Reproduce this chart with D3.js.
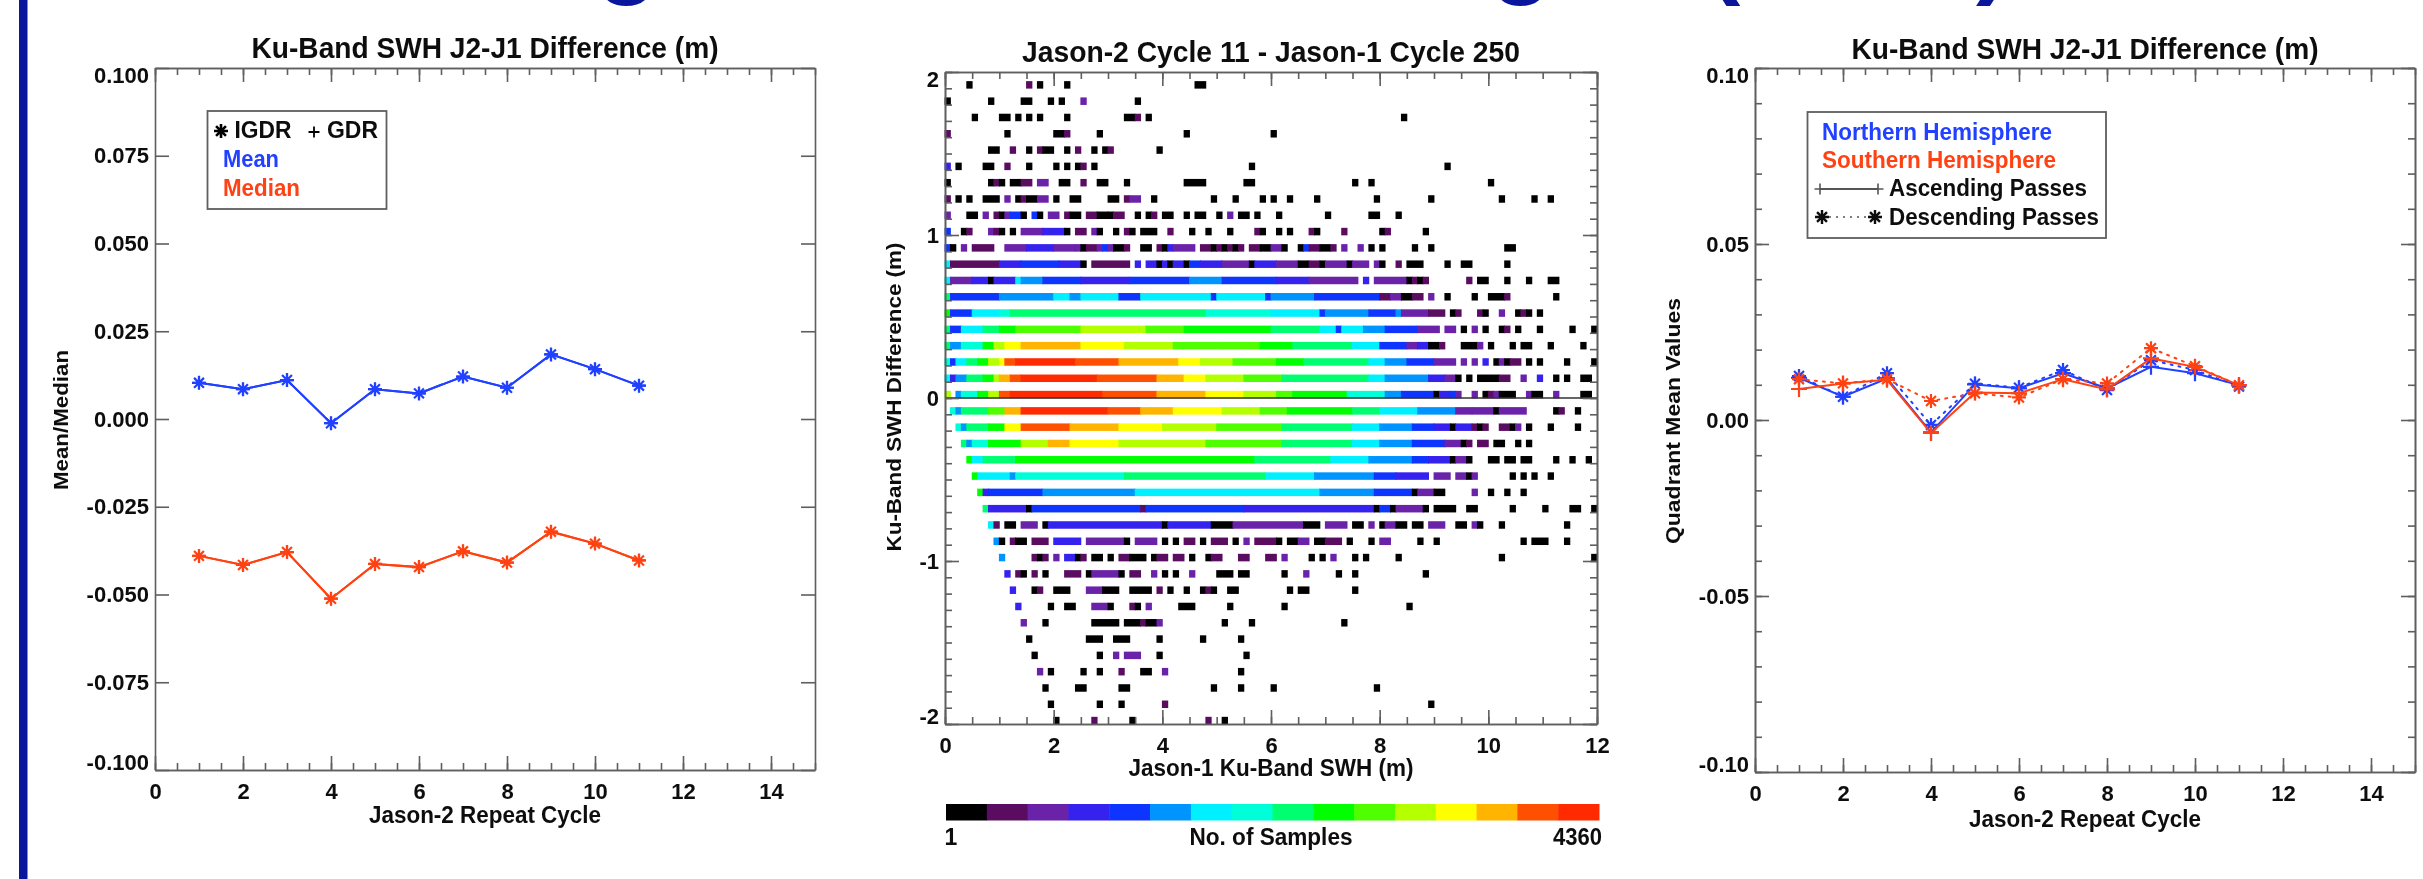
<!DOCTYPE html>
<html><head><meta charset="utf-8">
<script src="https://cdn.jsdelivr.net/npm/d3@7"></script>
<style>
html,body{margin:0;padding:0;background:#fff;overflow:hidden}
svg{display:block}
text{font-family:"Liberation Sans",Arial,sans-serif;font-weight:bold;fill:#0c0c0c}
</style></head><body><div id="c"></div>
<script>
// ---------- data ----------
const cycles=[1,2,3,4,5,6,7,8,9,10,11];
const meanDiff=[0.0103,0.0085,0.0111,-0.0012,0.0085,0.0073,0.0121,0.0089,0.0184,0.0142,0.0095];
const medianDiff=[-0.0390,-0.0416,-0.0379,-0.0512,-0.0413,-0.0422,-0.0377,-0.0409,-0.0321,-0.0355,-0.0403];
const northAsc=[0.0120,0.0066,0.0118,-0.0035,0.0101,0.0090,0.0133,0.0090,0.0151,0.0133,0.0099];
const northDesc=[0.0125,0.0066,0.0133,-0.0014,0.0103,0.0092,0.0142,0.0085,0.0170,0.0142,0.0095];
const southAsc=[0.0088,0.0104,0.0114,-0.0037,0.0078,0.0076,0.0116,0.0087,0.0175,0.0151,0.0099];
const southDesc=[0.0116,0.0104,0.0116,0.0054,0.0076,0.0064,0.0116,0.0104,0.0204,0.0153,0.0099];
const colourLevels=["#000000","#5a1060","#6a20a8","#3420ee","#1034ff","#0094ff","#00f0ff","#00ffd8","#00ff70","#00ff00","#50ff00","#b4ff00","#ffff00","#ffb400","#ff5000","#ff2a00"];
const diffBins=[1.9,1.8,1.7,1.6,1.5,1.4,1.3,1.2,1.1,1.0,0.9,0.8,0.7,0.6,0.5,0.4,0.3,0.2,0.1,0.0,-0.1,-0.2,-0.3,-0.4,-0.5,-0.6,-0.7,-0.8,-0.9,-1.0,-1.1,-1.2,-1.3,-1.4,-1.5,-1.6,-1.7,-1.8,-1.9,-2.0];
// per difference bin: a number is one lowest-count cell (SWH bin index, 0.1 m wide); [first,last,level] is a run
const binRuns=[
[4,[15,15,1],17,22,[46,47,0]],
[0,8,[14,15,0],19,21,[25,25,2],35],
[5,[10,11,0],13,15,17,22,[33,34,0],[35,35,1],37,84],
[[0,0,1],11,[20,21,0],[22,22,1],28,44,60],
[[8,9,0],[12,12,1],15,[17,17,1],[18,19,0],22,[24,24,1],27,29,[30,30,1],39],
[[0,0,3],2,[7,8,0],[11,11,1],15,20,22,24,[25,25,1],27,56,92],
[0,8,[9,9,1],10,[12,13,0],[14,15,1],[17,18,2],[21,22,0],[25,25,1],[28,29,0],33,[44,47,0],[55,56,0],75,78,100],
[[0,0,1],2,4,[7,9,0],[11,11,2],13,[14,14,1],[15,16,0],[17,18,2],20,[23,24,0],[30,31,0],[33,33,1],[34,35,2],38,49,53,58,60,63,68,79,89,102,108,111],
[[0,0,2],[4,5,0],[7,7,2],[9,9,1],10,[11,11,2],[12,13,4],14,[16,16,4],17,[19,20,2],[22,22,1],[23,24,0],[26,27,1],[28,29,0],30,[31,32,1],35,37,[38,38,1],[40,41,0],44,[46,47,0],50,[52,52,2],[54,55,0],57,61,70,[78,79,0],83],
[[0,0,4],3,[4,4,1],[8,8,2],[9,9,1],10,12,[14,17,2],[18,21,3],22,[24,25,1],[27,27,2],28,31,[33,33,1],34,[36,38,0],[41,41,1],45,48,52,[57,57,1],58,61,63,[67,67,1],68,[73,73,1],80,[81,81,1],88],
[[0,0,4],1,[3,3,2],[5,8,1],[11,14,2],[15,19,3],[20,23,2],[24,24,2],25,[26,27,1],[28,28,2],[29,29,4],[30,30,2],[31,32,0],[33,33,1],[36,37,0],[39,39,1],40,[41,41,3],[42,45,2],[47,48,1],49,[50,50,1],51,[52,52,1],53,[54,54,1],[56,57,1],[58,59,0],[60,61,2],62,65,[66,66,4],[67,68,1],[69,70,0],[71,71,1],[73,73,2],[76,76,2],78,80,86,89,[103,104,0]],
[[0,0,6],[1,9,1],[10,13,3],[14,20,4],[21,24,3],25,[27,33,1],[35,35,3],[37,38,3],39,[40,40,3],41,[42,43,3],44,[45,46,4],[47,50,3],[51,55,2],56,[57,60,3],[61,64,2],[65,66,0],[67,68,1],69,[70,73,2],74,[75,77,2],[79,79,2],80,[83,83,1],[85,87,0],92,[95,96,0],103],
[[0,0,6],[1,4,2],[5,7,3],8,[9,12,3],[13,13,6],[14,17,5],[18,24,4],[25,33,3],[34,44,4],[45,50,5],[51,60,4],[61,66,3],[67,75,2],[77,77,3],[79,84,2],85,[86,86,1],87,[88,88,1],[96,96,1],[98,99,0],103,107,[111,112,0]],
[[0,0,8],[1,9,4],[10,19,5],[20,22,6],[23,24,5],[25,31,6],[32,35,4],[36,48,6],[49,49,4],[50,58,6],[59,59,4],[60,67,5],[68,79,4],[80,81,1],[82,83,2],[84,85,0],[86,87,1],[89,89,2],92,97,[100,102,0],[103,103,1],112],
[[0,0,9],[1,4,4],[5,9,6],[10,11,7],[12,47,8],[48,59,7],[60,68,6],[69,69,4],[70,77,5],[78,82,4],[83,83,5],[84,88,2],[89,91,1],93,[94,94,1],[98,98,1],99,[102,102,2],105,[106,106,1],107,109],
[[0,0,8],[1,2,4],[3,6,6],[7,9,8],[10,12,9],[13,24,10],[25,36,11],[37,43,10],[44,59,9],[60,68,8],[69,71,6],[72,72,4],[73,76,6],[77,80,5],[81,86,4],[87,90,2],[92,93,2],95,[97,97,2],99,102,[103,103,1],105,109,115,119],
[[0,0,8],[1,2,5],[3,6,7],[7,8,9],[9,10,11],[11,13,12],[14,24,13],[25,32,12],[33,41,11],[42,50,10],[51,57,10],[58,63,9],[64,74,8],[75,79,6],[80,84,4],[85,86,2],[87,88,3],[89,90,0],[91,91,1],[95,97,0],[98,98,2],100,104,[106,107,0],111,117],
[[0,0,7],[1,1,4],[2,3,6],[4,5,8],[6,7,9],[8,9,11],[10,10,12],[11,12,14],[13,23,15],[24,31,14],[32,42,13],[43,46,12],[47,52,11],[53,60,10],[61,65,9],[66,77,8],[78,80,6],[81,84,5],[85,89,4],[90,93,2],[95,95,2],[97,97,2],[99,99,3],101,[102,102,2],103,[104,105,1],107,109,114,119],
[[0,0,6],[1,1,3],[2,3,5],[4,6,8],[7,8,9],[9,9,11],[10,11,13],[12,13,14],[14,27,15],[28,38,14],[39,43,13],[44,47,12],[48,54,11],[55,61,10],[62,77,8],[78,80,6],[81,88,5],[89,91,3],[92,93,2],94,96,[98,101,0],[102,103,1],[106,106,2],[109,109,3],112,114,[117,118,0]],
[[0,0,11],[2,2,5],[3,5,7],[6,7,9],[8,9,11],[10,11,14],[12,28,15],[29,38,14],[39,47,13],[48,54,12],[55,60,11],[61,63,10],[64,73,9],[74,80,7],[81,83,5],[84,89,4],90,[91,92,3],[93,93,4],[94,94,2],[97,97,2],99,[100,100,1],[101,101,2],[102,104,0],[107,107,2],[108,109,0],[112,112,2],[117,118,0]],
[[1,1,7],[2,2,5],[3,7,8],[8,10,10],[11,13,13],[14,29,15],[30,35,14],[36,41,13],[42,50,12],[51,57,11],[58,62,10],[63,74,9],[75,79,8],[80,86,6],[87,93,5],[94,96,2],[97,100,2],101,[102,106,2],112,[113,113,1],116],
[[2,2,7],[3,3,5],[4,7,8],[8,10,9],[11,13,12],[14,22,14],[23,31,13],[32,39,12],[40,49,11],[50,61,10],[62,74,8],[75,79,6],[80,85,5],[86,89,4],[90,92,3],93,[94,96,3],[97,97,1],98,[99,99,1],[102,103,1],104,[105,105,2],107,111,116],
[[3,3,8],[4,4,5],[5,7,7],[8,13,9],[14,18,11],[19,22,13],[23,31,12],[32,47,11],[48,61,10],[62,74,8],[75,79,6],[80,85,5],[86,91,4],[92,94,2],95,[96,96,1],[98,99,1],[101,102,0],105,107],
[[4,4,9],[5,6,6],[7,12,8],[13,56,9],[57,70,8],[71,77,6],[78,85,5],[86,88,4],[89,92,3],93,[94,95,2],96,[100,101,0],[103,104,0],[106,107,0],112,115,118],
[[5,5,9],[6,11,6],[12,12,5],[13,32,7],[33,58,8],[59,67,6],[68,78,5],[79,82,4],[83,88,3],[90,92,2],[94,95,2],96,[97,97,2],104,106,108,111],
[[6,6,9],[7,7,3],[8,17,4],[18,34,5],[35,68,6],[69,78,5],[79,85,4],86,[87,89,2],[90,91,0],[97,97,2],100,103,106],
[[7,7,8],[8,14,3],15,[16,35,4],[36,36,1],[37,54,4],[55,78,3],79,[80,81,4],82,[83,87,2],88,[90,93,0],[96,97,0],104,110,[115,116,0],119],
[[8,8,6],[9,9,1],[11,12,0],[14,16,2],18,[19,39,3],40,[41,48,3],[49,52,0],[53,65,2],[66,68,0],[70,73,2],[75,76,0],[78,78,2],[80,80,0],[81,82,2],[83,84,0],[86,87,0],[89,91,2],[94,95,0],[97,97,2],98,102,114],
[[9,9,5],10,[12,12,1],[13,14,0],[16,18,1],[20,24,3],[26,32,2],33,[35,38,2],40,42,[44,45,1],47,[49,51,1],53,[55,55,2],[57,60,1],61,[63,64,0],[65,66,2],[68,69,0],[70,72,1],74,78,[80,81,2],87,90,106,[108,110,0],114],
[[10,10,5],[16,16,1],17,[18,18,1],[20,20,2],[22,23,3],24,[25,25,1],[27,28,0],30,[32,33,1],[34,36,0],38,[39,40,1],[42,43,1],45,48,[49,50,1],[54,55,1],[59,60,1],[62,62,2],67,69,[71,71,2],75,77,83,102,119],
[[11,11,3],[13,13,1],14,[16,16,1],18,[22,24,1],26,[27,31,2],32,[34,35,1],[38,38,2],40,42,[45,45,2],[50,52,0],[54,55,0],62,[66,66,2],72,75,88],
[[12,12,3],16,[17,17,1],[20,22,0],[26,28,2],[29,31,0],[34,37,0],[39,39,1],41,44,47,[48,48,1],49,[52,53,0],63,[65,66,0],75],
[[13,13,3],19,[22,23,0],[27,29,2],30,[34,34,1],35,[37,37,2],[43,45,0],52,62,85],
[[14,14,2],18,[27,31,0],[33,35,0],[36,36,1],[37,38,0],[39,39,2],51,56,73],
[15,[26,28,0],[31,33,0],39,47,54],
[16,28,[31,31,2],[33,35,2],39,55],
[[17,17,2],19,25,28,[32,32,1],[36,37,0],[40,40,2],54],
[18,[24,25,0],[32,33,0],49,54,60,79],
[19,28,32,[40,40,1],89],
[20,[27,27,1],34,[48,48,1],51]
];
const legendEntries=["Mean","Median"];
const hemiEntries=["Northern Hemisphere","Southern Hemisphere","Ascending Passes","Descending Passes"];

// ---------- helpers ----------
const BLUE="#2040ff",RED="#ff4212",AXIS="#5e5e5e",NAVY="#0a169c";
const FS=22;
const svg=d3.select("#c").append("svg").attr("width",2423).attr("height",879);
const defs=svg.append("defs");
defs.append("filter").attr("id","soft").attr("filterUnits","userSpaceOnUse").attr("x",0).attr("y",0).attr("width",2423).attr("height",879)
 .append("feGaussianBlur").attr("stdDeviation",0.75);

svg.append("rect").attr("x",19).attr("y",0).attr("width",8.5).attr("height",879).attr("fill",NAVY);
const bigTitle=svg.append("text").attr("x",501).attr("y",-15).style("font-size","101px").style("fill",NAVY);
bigTitle.append("tspan").text("Significant Wave Height ");
bigTitle.append("tspan").attr("dx",31).text("(SWH)");

const root=svg.append("g").attr("filter","url(#soft)");
const star={draw(c,s){const r=Math.sqrt(s);for(const a of [0,45,90,135]){const t=a*Math.PI/180,dx=r*Math.sin(t),dy=r*Math.cos(t);c.moveTo(-dx,-dy);c.lineTo(dx,dy);}}};
const plus={draw(c,s){const r=Math.sqrt(s);c.moveTo(-r,0);c.lineTo(r,0);c.moveTo(0,-r);c.lineTo(0,r);}};
const starPath=d3.symbol().type(star).size(49)();
const plusPath=d3.symbol().type(plus).size(64)();
const plusSmall=d3.symbol().type(plus).size(30)();
const plusMid=d3.symbol().type(plus).size(42)();
const hy=s=>s.replace("\u2212","-");

function frame(g,o){
  const x=d3.scaleLinear().domain(o.xd).range(o.xr), y=d3.scaleLinear().domain(o.yd).range(o.yr);
  const tf=d3.format(o.fmt);
  const fy=d=>hy(tf(d));
  const style=s=>{s.selectAll("path,line").attr("stroke",AXIS).attr("stroke-width",1.6);s.selectAll("path").attr("fill","none");};
  const at=(t)=>`translate(${t[0]},${t[1]})`;
  g.append("g").attr("transform",at([0,o.yr[0]])).call(d3.axisBottom(x).tickValues(o.xMinor).tickSize(-7).tickSizeOuter(0).tickFormat("")).call(style);
  g.append("g").attr("transform",at([0,o.yr[1]])).call(d3.axisTop(x).tickValues(o.xMinor).tickSize(-7).tickSizeOuter(0).tickFormat("")).call(style);
  g.append("g").attr("transform",at([0,o.yr[0]])).call(d3.axisBottom(x).tickValues(o.xMajor).tickSize(-14).tickSizeOuter(0).tickPadding(13).tickFormat(d3.format("d"))).call(style).selectAll("text").attr("class","sq").style("font-size",FS+"px").attr("fill",null);
  g.append("g").attr("transform",at([0,o.yr[1]])).call(d3.axisTop(x).tickValues(o.xMajor).tickSize(-14).tickSizeOuter(0).tickFormat("")).call(style);
  if(o.yMinor){
    g.append("g").attr("transform",at([o.xr[0],0])).call(d3.axisLeft(y).tickValues(o.yMinor).tickSize(-7).tickSizeOuter(0).tickFormat("")).call(style);
    g.append("g").attr("transform",at([o.xr[1],0])).call(d3.axisRight(y).tickValues(o.yMinor).tickSize(-7).tickSizeOuter(0).tickFormat("")).call(style);
  }
  const yl=g.append("g").attr("transform",at([o.xr[0],0])).call(d3.axisLeft(y).tickValues(o.yMajor).tickSize(-14).tickSizeOuter(0).tickPadding(6).tickFormat(fy)).call(style);
  yl.selectAll("text").attr("class","sq").style("font-size",FS+"px").attr("fill",null).attr("transform",d=>d===o.yd[1]?"translate(0,7)":d===o.yd[0]?"translate(0,-8)":null);
  g.append("g").attr("transform",at([o.xr[1],0])).call(d3.axisRight(y).tickValues(o.yMajor).tickSize(-14).tickSizeOuter(0).tickFormat("")).call(style);
  const cx=(o.xr[0]+o.xr[1])/2;
  g.append("text").attr("x",cx).attr("y",o.titleY).attr("text-anchor","middle").style("font-size","29px").attr("textLength",o.titleW).attr("lengthAdjust","spacingAndGlyphs").text(o.title);
  g.append("text").attr("x",cx).attr("y",o.xlabY).attr("text-anchor","middle").style("font-size","24px").attr("textLength",o.xlabW).attr("lengthAdjust","spacingAndGlyphs").text(o.xlab);
  g.append("text").attr("transform",`translate(${o.ylabX},${o.ylabC}) rotate(-90)`).attr("text-anchor","middle").style("font-size","21px").attr("textLength",o.ylabW).attr("lengthAdjust","spacingAndGlyphs").text(o.ylab);
  return {x,y};
}
function series(g,sc,vals,col,marker,dashed){
  const line=d3.line().x((d,i)=>sc.x(cycles[i])).y(d=>sc.y(d));
  g.append("path").attr("d",line(vals)).attr("fill","none").attr("stroke",col).attr("stroke-width",2)
   .attr("stroke-dasharray",dashed?"2 6":null).attr("stroke-linecap",dashed?"round":null);
  g.selectAll(null).data(vals).join("path").attr("d",marker)
   .attr("transform",(d,i)=>`translate(${sc.x(cycles[i])},${sc.y(d)})`).attr("fill","none").attr("stroke",col).attr("stroke-width",2.2);
}
function legText(g,x,y,t,w,col){g.append("text").attr("x",x).attr("y",y).attr("dy","0.36em").style("font-size","23px").style("fill",col||"#0c0c0c").attr("textLength",w).attr("lengthAdjust","spacingAndGlyphs").text(t);}

// ---------- panel 1 ----------
const p1=root.append("g");
const s1=frame(p1,{xd:[0,15],xr:[155,815],yd:[-0.1,0.1],yr:[770,68],fmt:".3f",
 xMajor:d3.range(0,15,2),xMinor:d3.range(0,15.01,0.5),yMajor:d3.range(-4,5).map(k=>k*0.025),
 title:"Ku-Band SWH J2-J1 Difference (m)",titleY:58,titleW:467,xlab:"Jason-2 Repeat Cycle",xlabY:823,xlabW:232,
 ylab:"Mean/Median",ylabX:68,ylabC:420,ylabW:140});
series(p1,s1,meanDiff,BLUE,starPath);
series(p1,s1,meanDiff,BLUE,plusMid);
series(p1,s1,medianDiff,RED,starPath);
series(p1,s1,medianDiff,RED,plusMid);
p1.append("rect").attr("x",207.5).attr("y",111).attr("width",179).attr("height",98).attr("fill","none").attr("stroke",AXIS).attr("stroke-width",1.8);
p1.append("path").attr("d",starPath).attr("transform","translate(221,131)").attr("fill","none").attr("stroke","#000").attr("stroke-width",2.6);
legText(p1,234.5,130,"IGDR",57);
p1.append("path").attr("d",plusSmall).attr("transform","translate(314,132)").attr("fill","none").attr("stroke","#000").attr("stroke-width",1.8);
legText(p1,327,130,"GDR",51);
legText(p1,223,159,legendEntries[0],56,BLUE);
legText(p1,223,188,legendEntries[1],77,RED);

// ---------- panel 2 ----------
const p2=root.append("g");
const xSwh=d3.scaleLinear().domain([0,12]).range([945,1597]);
const yDiff=d3.scaleLinear().domain([-2,2]).range([724,72]);
const fill=d3.scaleOrdinal().domain(d3.range(colourLevels.length)).range(colourLevels);
const cells=binRuns.flatMap((runs,r)=>runs.map(u=>{
  const [a,b,l]=Array.isArray(u)?u:[u,u,0];
  return {bin:diffBins[r],a,b,l};
}));
p2.selectAll("rect.cell").data(cells).join("rect").attr("class","cell")
 .attr("x",d=>xSwh(d.a/10-0.008)).attr("width",d=>xSwh((d.b+1)/10+0.008)-xSwh(d.a/10-0.008))
 .attr("y",d=>yDiff(d.bin+0.044)).attr("height",d=>yDiff(d.bin-0.002)-yDiff(d.bin+0.044))
 .attr("fill",d=>fill(d.l));
p2.append("line").attr("x1",xSwh(0)).attr("x2",xSwh(12)).attr("y1",yDiff(0)).attr("y2",yDiff(0)).attr("stroke","#333").attr("stroke-width",1.6);
frame(p2,{xd:[0,12],xr:[945,1597],yd:[-2,2],yr:[724,72],fmt:"d",
 xMajor:d3.range(0,12.01,2),xMinor:d3.range(0,12.01,0.5),yMajor:[-2,-1,0,1,2],yMinor:d3.range(-20,21).map(k=>k/10),
 title:"Jason-2 Cycle 11 - Jason-1 Cycle 250",titleY:62,titleW:498,xlab:"Jason-1 Ku-Band SWH (m)",xlabY:776,xlabW:285,
 ylab:"Ku-Band SWH Difference (m)",ylabX:901,ylabC:397,ylabW:309});
// colour bar
const cb=d3.scaleBand().domain(d3.range(colourLevels.length)).range([946,1599]);
p2.selectAll("rect.cb").data(colourLevels).join("rect").attr("class","cb")
 .attr("x",(d,i)=>cb(i)).attr("width",cb.bandwidth()+0.5).attr("y",804).attr("height",16.5).attr("fill",d=>d);
const cbLabels=["1","No. of Samples","4360"];
p2.append("text").attr("x",951).attr("y",845).attr("text-anchor","middle").style("font-size","23px").text(cbLabels[0]);
p2.append("text").attr("x",1271).attr("y",845).attr("text-anchor","middle").style("font-size","23px").attr("textLength",163).attr("lengthAdjust","spacingAndGlyphs").text(cbLabels[1]);
p2.append("text").attr("x",1602).attr("y",845).attr("text-anchor","end").style("font-size","23px").attr("textLength",49).attr("lengthAdjust","spacingAndGlyphs").text(cbLabels[2]);

// ---------- panel 3 ----------
const p3=root.append("g");
const s3=frame(p3,{xd:[0,15],xr:[1755,2415],yd:[-0.1,0.1],yr:[772,68],fmt:".2f",
 xMajor:d3.range(0,15,2),xMinor:d3.range(0,15.01,0.5),yMajor:[-0.1,-0.05,0,0.05,0.1],yMinor:d3.range(-10,11).map(k=>k/100),
 title:"Ku-Band SWH J2-J1 Difference (m)",titleY:59,titleW:467,xlab:"Jason-2 Repeat Cycle",xlabY:827,xlabW:232,
 ylab:"Quadrant Mean Values",ylabX:1680,ylabC:421,ylabW:246});
series(p3,s3,northDesc,BLUE,starPath,true);
series(p3,s3,northAsc,BLUE,plusPath);
series(p3,s3,southDesc,RED,starPath,true);
series(p3,s3,southAsc,RED,plusPath);
p3.append("rect").attr("x",1807.5).attr("y",112).attr("width",298.5).attr("height",126).attr("fill","none").attr("stroke",AXIS).attr("stroke-width",1.8);
legText(p3,1822,132,hemiEntries[0],230,BLUE);
legText(p3,1822,160,hemiEntries[1],234,RED);
legText(p3,1889,188,hemiEntries[2],198);
legText(p3,1889,217,hemiEntries[3],210);
p3.append("line").attr("x1",1820).attr("x2",1878).attr("y1",189).attr("y2",189).attr("stroke","#555").attr("stroke-width",2);
p3.selectAll(null).data([1820,1878]).join("path").attr("d",plusSmall).attr("transform",d=>`translate(${d},189)`).attr("fill","none").attr("stroke","#555").attr("stroke-width",1.6);
p3.append("line").attr("x1",1822).attr("x2",1875).attr("y1",217).attr("y2",217).attr("stroke","#555").attr("stroke-width",1.6).attr("stroke-dasharray","2 5");
p3.selectAll(null).data([1822,1875]).join("path").attr("d",starPath).attr("transform",d=>`translate(${d},217)`).attr("fill","none").attr("stroke","#111").attr("stroke-width",2.4);
</script></body></html>
